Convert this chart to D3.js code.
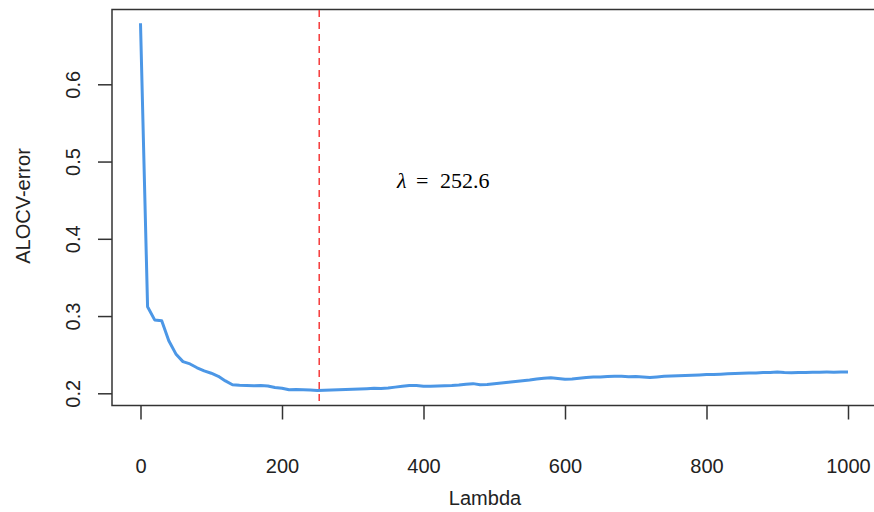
<!DOCTYPE html>
<html>
<head>
<meta charset="utf-8">
<script src="https://cdn.jsdelivr.net/npm/d3@7"></script>
<style>
  body { margin: 0; background: #ffffff; }
  svg text { font-family: "Liberation Sans", Arial, sans-serif; fill: #222; }
</style>
</head>
<body>
<div id="chart"></div>
<script>
// ALOCV error curve over the lambda grid (step 10)
const lambdas = d3.range(0, 1001, 10);
const alocvError = [
  0.679, 0.312, 0.295, 0.294, 0.268, 0.251, 0.241, 0.238, 0.233, 0.229,
  0.226, 0.222, 0.216, 0.211, 0.2103, 0.2100, 0.2098, 0.2102, 0.2095, 0.2075,
  0.2065, 0.2045, 0.2048, 0.2046, 0.2042, 0.2036, 0.2040, 0.2044, 0.2046, 0.2050,
  0.2052, 0.2056, 0.2060, 0.2065, 0.2063, 0.2068, 0.2080, 0.2092, 0.2102, 0.2100,
  0.2090, 0.2092, 0.2095, 0.2098, 0.2100, 0.2106, 0.2118, 0.2125, 0.2110, 0.2114,
  0.2125, 0.2133, 0.2142, 0.2152, 0.2162, 0.2172, 0.2185, 0.2195, 0.2202, 0.2192,
  0.2182, 0.2185, 0.2195, 0.2205, 0.2212, 0.2210, 0.2218, 0.2222, 0.2220, 0.2215,
  0.2218, 0.2212, 0.2205, 0.2212, 0.2220, 0.2224, 0.2228, 0.2230, 0.2234, 0.2238,
  0.2242, 0.2244, 0.2248, 0.2252, 0.2256, 0.2258, 0.2262, 0.2264, 0.2268, 0.2270,
  0.2275, 0.2268, 0.2265, 0.2268, 0.2270, 0.2272, 0.2274, 0.2275, 0.2274, 0.2276,
  0.2276
];
const xTicks = [0, 200, 400, 600, 800, 1000];
const yTicks = [0.2, 0.3, 0.4, 0.5, 0.6];
const bestLambda = 252.6;

const width = 874;
const height = 512;

const svg = d3.select('#chart')
  .append('svg')
  .attr('width', width)
  .attr('height', height);

const x = d3.scaleLinear().domain([0, 1000]).range([140.5, 848]);
const y = d3.scaleLinear().domain([0.2, 0.6]).range([393.3, 84.3]);

// plot box (right side runs off the canvas)
svg.append('rect')
  .attr('x', 112)
  .attr('y', 9.5)
  .attr('width', 790)
  .attr('height', 396)
  .attr('fill', 'none')
  .attr('stroke', '#333')
  .attr('stroke-width', 1.5);

// bottom axis
const xAxis = svg.append('g')
  .attr('transform', 'translate(0,405.5)')
  .call(d3.axisBottom(x).tickValues(xTicks).tickSize(14).tickPadding(39).tickFormat(d3.format('d')));
xAxis.select('.domain').remove();
xAxis.selectAll('line').attr('stroke', '#333').attr('stroke-width', 1.5);
xAxis.selectAll('text').attr('font-size', '20px').attr('fill', '#222');

// left axis, labels rotated like R's default
const yAxis = svg.append('g')
  .attr('transform', 'translate(112,0)')
  .call(d3.axisLeft(y).tickValues(yTicks).tickSize(14).tickFormat(d3.format('.1f')));
yAxis.select('.domain').remove();
yAxis.selectAll('line').attr('stroke', '#333').attr('stroke-width', 1.5);
yAxis.selectAll('text')
  .attr('font-size', '20px')
  .attr('fill', '#222')
  .attr('x', null)
  .attr('text-anchor', 'middle')
  .attr('transform', 'translate(-39,0) rotate(-90)')
  .attr('dy', '0.35em');

// axis titles
svg.append('text')
  .attr('x', 485)
  .attr('y', 505)
  .attr('text-anchor', 'middle')
  .attr('font-size', '20px')
  .text('Lambda');

svg.append('text')
  .attr('transform', 'translate(30,206) rotate(-90)')
  .attr('text-anchor', 'middle')
  .attr('font-size', '20px')
  .text('ALOCV-error');

// selected lambda
svg.append('line')
  .attr('x1', x(bestLambda))
  .attr('x2', x(bestLambda))
  .attr('y1', 10)
  .attr('y2', 405)
  .attr('stroke', '#f53b3b')
  .attr('stroke-width', 1.5)
  .attr('stroke-dasharray', '7,5');

// error curve
const line = d3.line()
  .x((d, i) => x(lambdas[i]))
  .y(d => y(d));

svg.append('path')
  .datum(alocvError)
  .attr('d', line)
  .attr('fill', 'none')
  .attr('stroke', '#4c97e6')
  .attr('stroke-width', 3)
  .attr('stroke-linejoin', 'round');

// annotation
const note = svg.append('text')
  .attr('y', 188)
  .style('font-family', '"Liberation Serif", "DejaVu Serif", serif')
  .attr('font-size', '22px')
  .style('fill', '#000');
note.append('tspan').attr('x', 397).attr('font-style', 'italic').text('λ');
note.append('tspan').attr('x', 416).text('=');
note.append('tspan').attr('x', 440).text(bestLambda);
</script>
</body>
</html>
